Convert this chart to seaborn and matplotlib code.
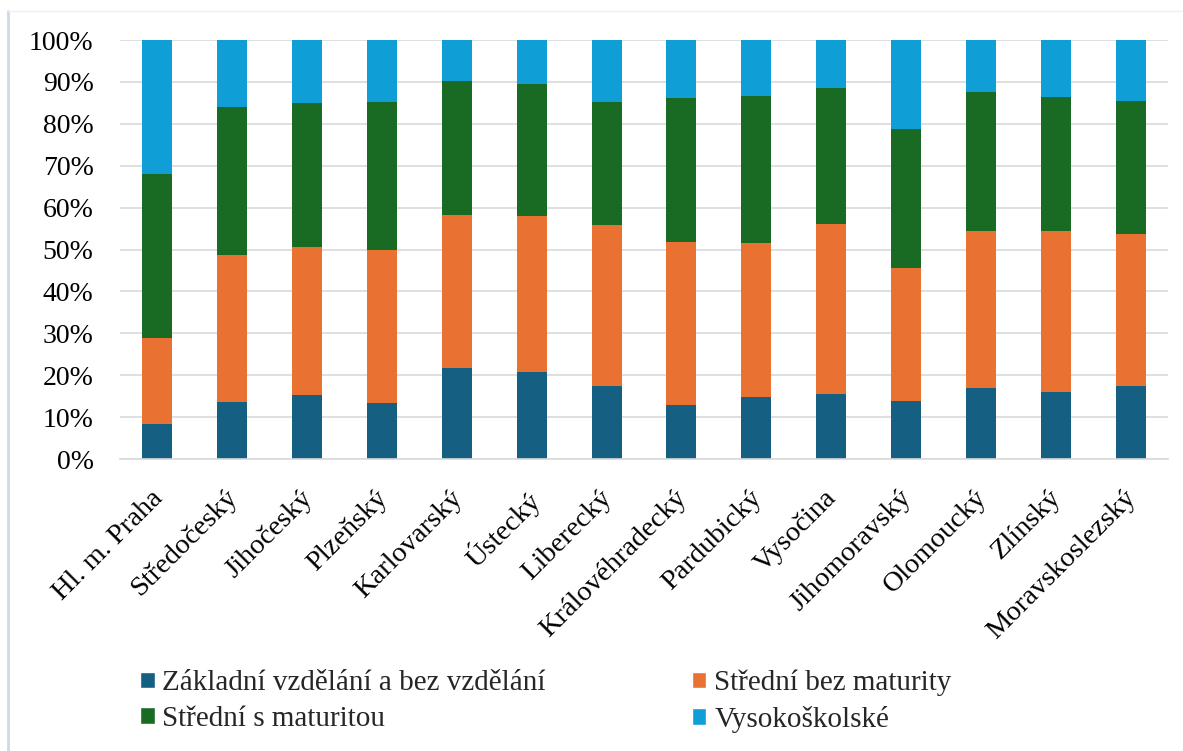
import numpy as np
import pandas as pd
import matplotlib
matplotlib.use("Agg")
import matplotlib.pyplot as plt
import matplotlib.transforms as mtransforms
from matplotlib.patches import Patch
from matplotlib.lines import Line2D
import seaborn as sns

# ---- data (shares in %) ----
regions = ["Hl. m. Praha", "Středočeský", "Jihočeský", "Plzeňský", "Karlovarský",
           "Ústecký", "Liberecký", "Královéhradecký", "Pardubický", "Vysočina",
           "Jihomoravský", "Olomoucký", "Zlínský", "Moravskoslezský"]
zakladni = [8.4, 13.5, 15.2, 13.3, 21.7, 20.7, 17.4, 12.8, 14.9, 15.4, 13.9, 16.9, 16.0, 17.4]
stredni_bez = [20.5, 35.2, 35.4, 36.7, 36.5, 37.3, 38.4, 39.0, 36.7, 40.7, 31.7, 37.6, 38.3, 36.4]
stredni_s = [39.0, 35.2, 34.3, 35.2, 32.0, 31.6, 29.4, 34.3, 35.1, 32.4, 33.1, 33.0, 32.1, 31.6]
vysoko = [32.1, 16.1, 15.1, 14.8, 9.8, 10.4, 14.8, 13.9, 13.3, 11.5, 21.3, 12.5, 13.6, 14.6]
series_names = ["Základní vzdělání a bez vzdělání", "Střední bez maturity",
                "Střední s maturitou", "Vysokoškolské"]
y_ticks = [0, 10, 20, 30, 40, 50, 60, 70, 80, 90, 100]
y_tick_labels = ["0%", "10%", "20%", "30%", "40%", "50%", "60%", "70%", "80%", "90%", "100%"]

colors = ["#156082", "#E97132", "#196B24", "#0F9ED5"]

sns.set_theme(style="white")
plt.rcParams["font.family"] = ["Liberation Serif", "DejaVu Serif"]

W, H = 1183, 751
fig = plt.figure(figsize=(W / 100, H / 100), dpi=100)
ax = fig.add_axes([120 / W, 1 - 459 / H, (1168 - 120) / W, (459 - 40) / H])

series = [zakladni, stredni_bez, stredni_s, vysoko]
totals = [np.array(s, dtype=float) for s in series]
sums = np.sum(totals, axis=0)
bottom = np.zeros(len(regions))
for vals, col, name in zip(series, colors, series_names):
    frac = np.array(vals, dtype=float) / sums * 100
    df = pd.DataFrame({"region": regions, "value": frac})
    sns.barplot(data=df, x="region", y="value", bottom=bottom, color=col,
                saturation=1, width=0.4, linewidth=0, ax=ax, order=regions)
    bottom = bottom + frac

ax.set_xlim(-0.5, len(regions) - 0.5)
ax.set_ylim(0, 100)
ax.set_yticks(y_ticks)
ax.set_yticklabels(y_tick_labels, fontsize=20)
ax.set_xlabel("")
ax.set_ylabel("")
ax.yaxis.grid(True, color="#D9D9D9", linewidth=1.2)
ax.set_axisbelow(True)
for s in ["top", "right", "left"]:
    ax.spines[s].set_visible(False)
ax.spines["bottom"].set_color("#D9D9D9")
ax.spines["bottom"].set_linewidth(1.2)
ax.tick_params(axis="y", length=0, pad=19, labelcolor="black")
ax.tick_params(axis="x", length=0, pad=19, labelcolor="black")
ax.set_xticks(range(len(regions)))
ax.set_xticklabels(regions, rotation=45, ha="right", va="top",
                   rotation_mode="anchor", fontsize=20.5)
offset = mtransforms.ScaledTranslation(-7 / 100, 0, fig.dpi_scale_trans)
for lab in ax.get_xticklabels():
    lab.set_transform(lab.get_transform() + offset)

# legend (column-major order to get rows: [Z, Sb], [Ss, V])
handles = [Patch(facecolor=colors[0]), Patch(facecolor=colors[2]),
           Patch(facecolor=colors[1]), Patch(facecolor=colors[3])]
labels = [series_names[0], series_names[2], series_names[1], series_names[3]]
fig.legend(handles, labels, ncol=2, loc="upper left",
           bbox_to_anchor=(140 / W, 1 - 670 / H), frameon=False,
           fontsize=21, handlelength=0.5, handleheight=0.5,
           handletextpad=0.27, columnspacing=5.0, labelspacing=0.32,
           borderpad=0, borderaxespad=0)

# chart frame
fig.add_artist(Line2D([8 / W, 8 / W], [0, 1 - 11 / H], transform=fig.transFigure,
                      color="#CBD8EE", linewidth=2))
fig.add_artist(Line2D([8 / W, 1], [1 - 11 / H, 1 - 11 / H], transform=fig.transFigure,
                      color="#F0F0F0", linewidth=1))

fig.savefig("out.png", dpi=100)
